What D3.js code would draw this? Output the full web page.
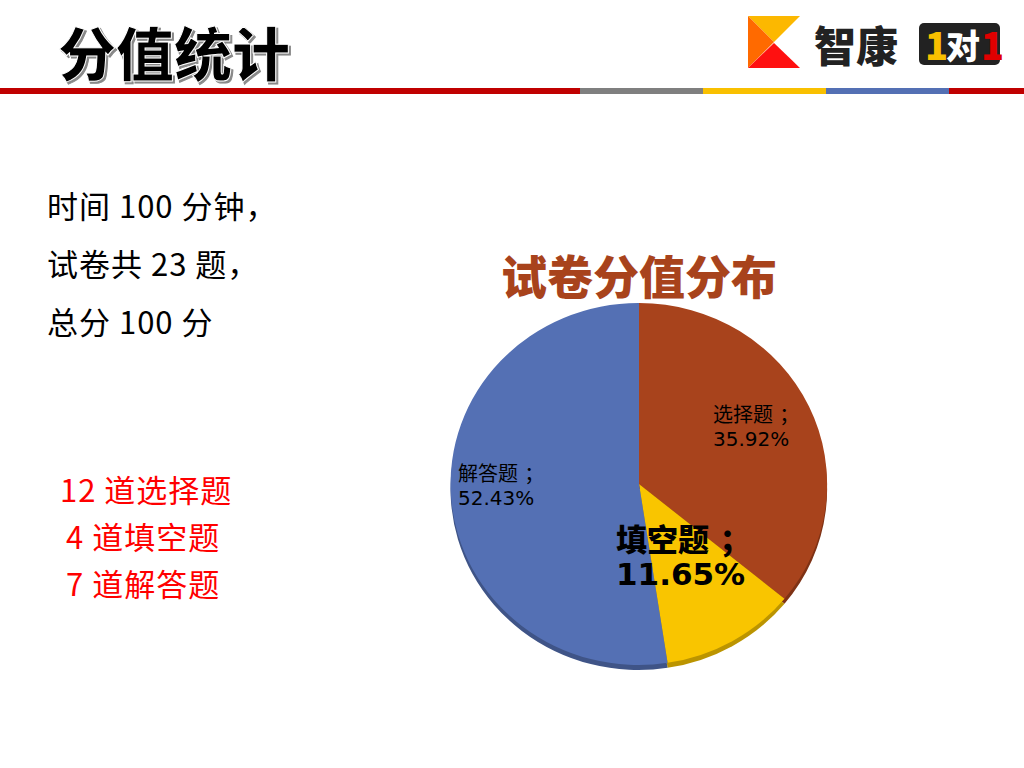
<!DOCTYPE html>
<html><head><meta charset="utf-8">
<script src="https://cdn.jsdelivr.net/npm/d3@7"></script>
<style>body{margin:0;background:#fff}</style>
</head><body><div id="chart"></div>
<script>
var categories = ["选择题", "填空题", "解答题"];
var values = [35.92, 11.65, 52.43];
var colors = ["#a8431c", "#f9c500", "#5470b4"];
var infoLines = ["时间 100 分钟，", "试卷共 23 题，", "总分 100 分"];
var countLines = ["12 道选择题", "4 道填空题", "7 道解答题"];

var font = "'Noto Sans CJK SC', 'Noto Sans', sans-serif";
var labelFont = "'DejaVu Sans', 'Noto Sans CJK SC', sans-serif";
var svg = d3.select("#chart").append("svg").attr("width", 1024).attr("height", 768);

// header title
svg.append("text").text("分值统计").attr("x", 58).attr("y", 76)
  .attr("font-family", font).attr("font-weight", 900).attr("font-size", 58)
  .attr("fill", "#000").attr("stroke", "#fff").attr("stroke-width", 1)
  .style("filter", "drop-shadow(2px 2px 0 #888)");

// header bar
var bars = [[0, 580, "#c00000"], [580, 703, "#7f7f7f"], [703, 826, "#f9c000"], [826, 949, "#5470b4"], [949, 1024, "#c00000"]];
svg.selectAll(".bar").data(bars).join("rect")
  .attr("x", d => d[0]).attr("y", 88).attr("width", d => d[1] - d[0]).attr("height", 6).attr("fill", d => d[2]);

// logo
var logo = svg.append("g").attr("transform", "translate(748,16)");
logo.append("path").attr("d", "M0,0 L52,0 L26,26 Z").attr("fill", "#fcb800");
logo.append("path").attr("d", "M0,0 L26,26 L0,52 Z").attr("fill", "#ff6a00");
logo.append("path").attr("d", "M0,52 L26,27 L52,52 Z").attr("fill", "#ff1010");
logo.append("text").text("智康").attr("x", 66).attr("y", 46).attr("font-family", font)
  .attr("font-weight", 900).attr("font-size", 42).attr("fill", "#222");
logo.append("rect").attr("x", 171).attr("y", 7).attr("width", 81).attr("height", 42).attr("rx", 5).attr("fill", "#222");
logo.append("text").text("1").attr("x", 177).attr("y", 44).attr("font-family", font).attr("font-weight", 900).attr("font-size", 38).attr("fill", "#f9c000");
logo.append("text").text("对").attr("x", 198).attr("y", 43).attr("font-family", font).attr("font-weight", 900).attr("font-size", 34).attr("fill", "#fff");
logo.append("text").text("1").attr("x", 233).attr("y", 44).attr("font-family", font).attr("font-weight", 900).attr("font-size", 38).attr("fill", "#e00000");

// left texts
svg.selectAll(".info").data(infoLines).join("text")
  .attr("x", 47).attr("y", (d, i) => 218 + i * 58).text(d => d)
  .attr("font-family", font).attr("font-size", 31).attr("letter-spacing", 1).attr("fill", "#000");
svg.selectAll(".cnt").data(countLines).join("text")
  .attr("x", (d, i) => i === 0 ? 60 : 66).attr("y", (d, i) => 502 + i * 47).text(d => d)
  .attr("font-family", font).attr("font-size", 31).attr("letter-spacing", 1).attr("fill", "#ff0000");

// chart title
svg.append("text").text("试卷分值分布").attr("x", 639).attr("y", 294).attr("text-anchor", "middle")
  .attr("font-family", font).attr("font-weight", 900).attr("font-size", 46).attr("fill", "#a8431c");

// pie
var cx = 639, cy = 484, rx = 188, ry = 181;
var pie = d3.pie().sort(null).value(d => d)(values);
var arc = d3.arc().innerRadius(0).outerRadius(1);
var g = svg.append("g").attr("transform", `translate(${cx},${cy + 5}) scale(${rx},${ry})`);
g.selectAll("path").data(pie).join("path").attr("d", arc)
  .attr("fill", (d, i) => d3.color(colors[i]).darker(0.8));
var g2 = svg.append("g").attr("transform", `translate(${cx},${cy}) scale(${rx},${ry})`);
g2.selectAll("path").data(pie).join("path").attr("d", arc)
  .attr("fill", (d, i) => colors[i]);

// labels
var labels = [
  {x: 713, y: 422, size: 20, bold: false},
  {x: 616, y: 551, size: 31, bold: true},
  {x: 458, y: 481, size: 20, bold: false}
];
labels.forEach(function(l, i) {
  var t = svg.append("text").attr("font-family", labelFont).attr("font-size", l.size)
    .attr("font-weight", l.bold ? 900 : 400).attr("fill", "#000");
  t.append("tspan").attr("x", l.x).attr("y", l.y).text(categories[i] + " ；");
  t.append("tspan").attr("x", l.x).attr("y", l.y + l.size * (l.bold ? 1.1 : 1.2)).text(values[i].toFixed(2) + "%");
});
</script></body></html>
